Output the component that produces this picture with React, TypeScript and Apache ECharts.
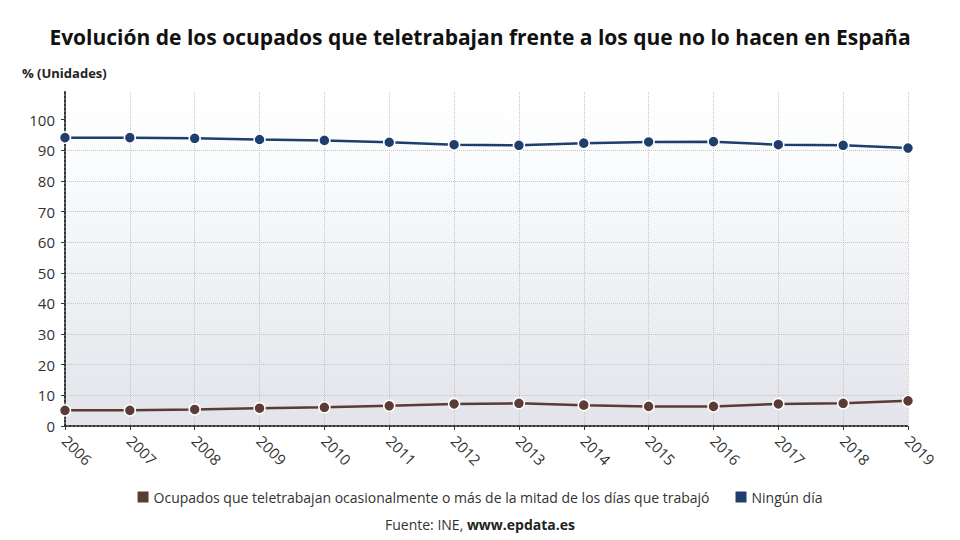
import React, { useEffect, useRef } from "react";
import * as echarts from "echarts";

const years = ["2006","2007","2008","2009","2010","2011","2012","2013","2014","2015","2016","2017","2018","2019"];
const teletrabajo = [5.1, 5.1, 5.4, 5.8, 6.1, 6.6, 7.2, 7.4, 6.8, 6.4, 6.4, 7.2, 7.4, 8.2];
const ningunDia = [94.1, 94.1, 93.9, 93.5, 93.2, 92.6, 91.8, 91.6, 92.3, 92.7, 92.8, 91.8, 91.6, 90.7];
const yTicks = [0, 10, 20, 30, 40, 50, 60, 70, 80, 90, 100];
const seriesNames = [
  "Ocupados que teletrabajan ocasionalmente o más de la mitad de los días que trabajó",
  "Ningún día",
];
const titleText = "Evolución de los ocupados que teletrabajan frente a los que no lo hacen en España";
const unitText = "% (Unidades)";

const FONT = "'Open Sans', 'Noto Sans', sans-serif";
const BROWN = "#5b3b35";
const NAVY = "#1f3e6d";

export default function App() {
  const ref = useRef<HTMLDivElement>(null);
  useEffect(() => {
    if (!ref.current) return;
    const chart = echarts.init(ref.current, null, { renderer: "svg" });
    const makeSeries = (name: string, data: number[], color: string) => ({
      name,
      type: "line",
      data,
      symbol: "circle",
      symbolSize: 11,
      lineStyle: { color, width: 2.5 },
      itemStyle: { color, borderColor: "#ffffff", borderWidth: 1.5 },
    });
    chart.setOption({
      animation: false,
      backgroundColor: "#ffffff",
      textStyle: { fontFamily: FONT },
      title: {
        text: titleText,
        left: "center",
        top: 21,
        textStyle: { fontFamily: FONT, fontSize: 21, fontWeight: "bold", color: "#111111" },
      },
      graphic: [
        {
          type: "text",
          left: 22,
          top: 66,
          style: { text: unitText, font: `bold 13px ${FONT}`, fill: "#222222" },
        },
        {
          type: "text",
          left: "center",
          top: 517,
          style: {
            text: "{n|Fuente: INE, }{b|www.epdata.es}",
            rich: {
              n: { fontFamily: FONT, fontSize: 14, fill: "#333333", fontWeight: "normal" },
              b: { fontFamily: FONT, fontSize: 14, fill: "#222222", fontWeight: "bold" },
            },
          },
        },
      ],
      legend: {
        bottom: 31,
        left: "center",
        itemGap: 26,
        itemWidth: 11,
        itemHeight: 11,
        icon: "rect",
        textStyle: { fontFamily: FONT, fontSize: 14, color: "#333333" },
        data: [
          { name: seriesNames[0], itemStyle: { color: BROWN, borderWidth: 0 } },
          { name: seriesNames[1], itemStyle: { color: NAVY, borderWidth: 0 } },
        ],
      },
      grid: {
        left: 65,
        right: 52,
        top: 92,
        bottom: 114,
        show: true,
        borderWidth: 0,
        backgroundColor: {
          type: "linear",
          x: 0, y: 0, x2: 0, y2: 1,
          colorStops: [
            { offset: 0, color: "#ffffff" },
            { offset: 0.2, color: "#fbfcfd" },
            { offset: 1, color: "#e2e4ea" },
          ],
        },
      },
      xAxis: {
        type: "category",
        data: years,
        boundaryGap: false,
        axisLine: { lineStyle: { color: "#333333", width: 2, type: "dotted" } },
        axisTick: { show: true, length: 4, lineStyle: { color: "#333333" } },
        axisLabel: {
          rotate: -45,
          fontFamily: FONT,
          fontSize: 15,
          color: "#333333",
          margin: 12,
        },
        splitLine: { show: true, lineStyle: { color: "#c4c4c4", type: "dotted", width: 1 } },
      },
      yAxis: {
        type: "value",
        min: 0,
        max: 109,
        interval: 10,
        axisLine: { show: true, lineStyle: { color: "#333333", width: 2, type: "dotted" } },
        axisTick: { show: true, length: 4, customValues: yTicks, lineStyle: { color: "#333333" } },
        axisLabel: {
          customValues: yTicks,
          fontFamily: FONT,
          fontSize: 15,
          color: "#333333",
          margin: 10,
        },
        splitLine: {
          show: true,
          showMaxLine: false,
          lineStyle: { color: "#c4c4c4", type: "dotted", width: 1 },
        },
      },
      series: [
        makeSeries(seriesNames[0], teletrabajo, BROWN),
        makeSeries(seriesNames[1], ningunDia, NAVY),
      ],
    });
    return () => chart.dispose();
  }, []);
  return (
    <div
      ref={ref}
      style={{ position: "fixed", left: 0, top: 0, width: 960, height: 540 }}
    />
  );
}
